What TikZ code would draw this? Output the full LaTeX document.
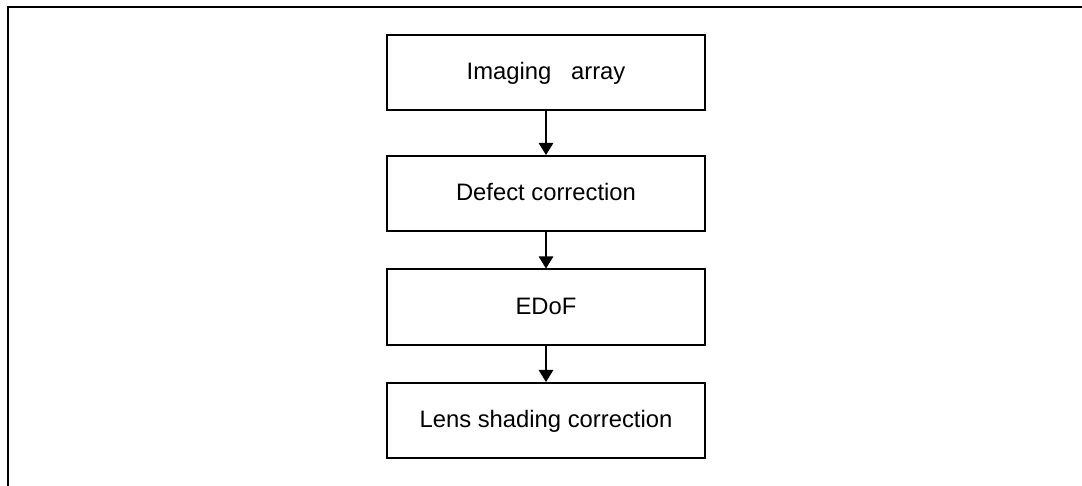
\documentclass[tikz,border=0pt]{standalone}
\usepackage{fontspec}
\setmainfont{Liberation Sans}
\usetikzlibrary{arrows.meta}
\begin{document}
\begin{tikzpicture}[x=1bp,y=-1bp,
  stagebox/.style={draw=black, line width=2bp, minimum width=318bp, minimum height=75bp,
    inner sep=0pt, text height=17bp, text depth=2.6bp,
    font=\fontsize{23.8bp}{28bp}\selectfont},
  flowarrow/.style={draw=black, line width=1.2bp, -{Triangle[width=14.5bp,length=12bp]}},
  frameline/.style={draw=black, line width=2bp}
]
\useasboundingbox (0,0) rectangle (1082,486);
\draw[frameline] (8,487) -- (8,7) -- (1083,7);
\node[stagebox] (img) at (546,72.5) {Imaging~~~array};
\node[stagebox] (def) at (546,193.5) {Defect correction};
\node[stagebox] (edof) at (546,307) {EDoF};
\node[stagebox] (lens) at (546,420.5) {Lens shading correction};
\draw[flowarrow] (img.south) -- (def.north);
\draw[flowarrow] (def.south) -- (edof.north);
\draw[flowarrow] (edof.south) -- (lens.north);
\end{tikzpicture}
\end{document}
